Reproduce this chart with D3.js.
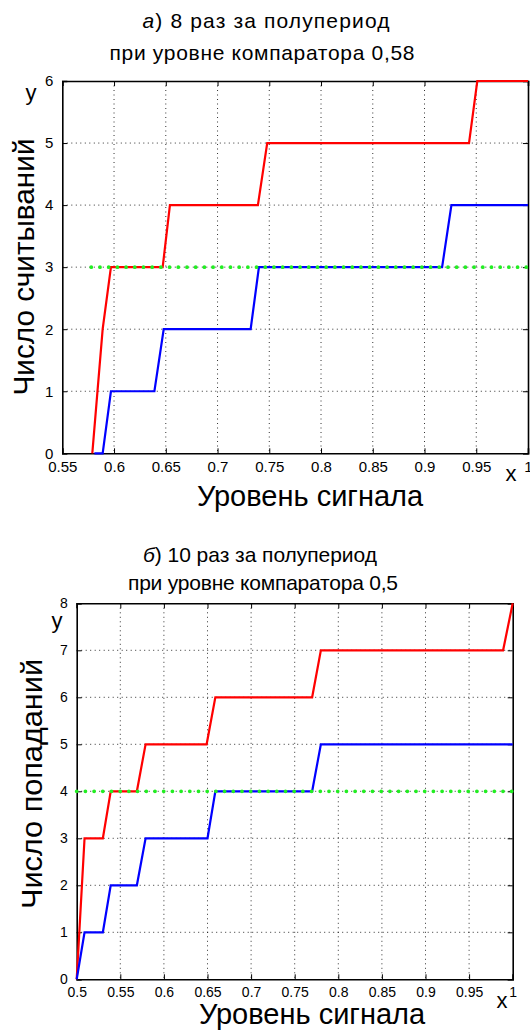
<!DOCTYPE html>
<html><head><meta charset="utf-8">
<script src="https://cdn.jsdelivr.net/npm/d3@7"></script>
<style>
body{margin:0;background:#fff;}
svg{display:block;font-family:"Liberation Sans",Arial,sans-serif;}
</style></head>
<body>
<svg id="c" width="530" height="1030"></svg>
<script>
// ---- Chart A data ----
const xTicksA = [0.55,0.6,0.65,0.7,0.75,0.8,0.85,0.9,0.95,1];
const yTicksA = [0,1,2,3,4,5,6];
const redAx = [0.579,0.589,0.597,0.647,0.654,0.739,0.748,0.943,0.951,1.0];
const redAy = [0,2,3,3,4,4,5,5,6,6];
const blueAx = [0.581,0.589,0.597,0.639,0.648,0.732,0.740,0.917,0.926,1.0];
const blueAy = [0,0,1,1,2,2,3,3,4,4];
const greenAx = [0.578,1.0];
const greenAy = [3,3];
// ---- Chart B data ----
const xTicksB = [0.5,0.55,0.6,0.65,0.7,0.75,0.8,0.85,0.9,0.95,1];
const yTicksB = [0,1,2,3,4,5,6,7,8];
const redBx = [0.5,0.509,0.530,0.539,0.569,0.579,0.649,0.659,0.770,0.780,0.989,1.0];
const redBy = [0,3,3,4,4,5,5,6,6,7,7,8];
const blueBx = [0.5,0.509,0.530,0.539,0.569,0.579,0.650,0.659,0.770,0.780,1.0];
const blueBy = [0,1,1,2,2,3,3,4,4,5,5];
const greenBx = [0.5,1.0];
const greenBy = [4,4];

const svg = d3.select("#c");

const fmtX = d => String(d);
const fmtY = d3.format("d");

function chart(cfg){
  const g = svg.append("g");
  const x = d3.scaleLinear().domain(cfg.xd).range([cfg.x0,cfg.x1]);
  const y = d3.scaleLinear().domain(cfg.yd).range([cfg.y1,cfg.y0]);
  // grid
  g.append("g").selectAll("line").data(cfg.xt.slice(1,-1)).join("line")
    .attr("x1",d=>x(d)).attr("x2",d=>x(d)).attr("y1",cfg.y0).attr("y2",cfg.y1)
    .attr("stroke","#000").attr("stroke-width",1).attr("stroke-dasharray","1,3.5").attr("opacity",0.8);
  g.append("g").selectAll("line").data(cfg.yt.slice(1,-1)).join("line")
    .attr("y1",d=>y(d)).attr("y2",d=>y(d)).attr("x1",cfg.x0).attr("x2",cfg.x1)
    .attr("stroke","#000").attr("stroke-width",1).attr("stroke-dasharray","1,3.5").attr("opacity",0.8);
  // axes
  const ax = (sel)=>sel.selectAll(".domain").attr("stroke-width",1.6);
  const tf = s=>s.selectAll("text").attr("font-size",cfg.tfs).attr("font-family","Liberation Sans").attr("fill","#000");
  g.append("g").attr("transform",`translate(0,${cfg.y1})`)
    .call(d3.axisBottom(x).tickValues(cfg.xt).tickSize(-5).tickPadding(8).tickFormat(fmtX))
    .call(ax).call(tf);
  g.append("g").attr("transform",`translate(0,${cfg.y0})`)
    .call(d3.axisTop(x).tickValues(cfg.xt).tickSize(-5).tickFormat(""))
    .call(ax);
  g.append("g").attr("transform",`translate(${cfg.x0},0)`)
    .call(d3.axisLeft(y).tickValues(cfg.yt).tickSize(-5).tickPadding(9).tickFormat(fmtY))
    .call(ax).call(tf);
  g.append("g").attr("transform",`translate(${cfg.x1},0)`)
    .call(d3.axisRight(y).tickValues(cfg.yt).tickSize(-5).tickFormat(""))
    .call(ax);
  const line = d3.line().x(d=>x(d[0])).y(d=>y(d[1]));
  const pts = (xs,ys)=>xs.map((v,i)=>[v,ys[i]]);
  g.append("path").attr("d",line(pts(cfg.rx,cfg.ry))).attr("fill","none").attr("stroke","#ff0000").attr("stroke-width",2.2);
  g.append("path").attr("d",line(pts(cfg.bx,cfg.by))).attr("fill","none").attr("stroke","#0000ff").attr("stroke-width",2.2);
  g.append("path").attr("d",line(pts(cfg.gx,cfg.gy))).attr("fill","none").attr("stroke","#22ee22")
    .attr("stroke-width",3.8).attr("stroke-linecap","round").attr("stroke-dasharray","0,8.7");
  return g;
}

chart({xd:[0.55,1],yd:[0,6],x0:62.3,x1:528,y0:81,y1:453.3,xt:xTicksA,yt:yTicksA,tfs:15,
  rx:redAx,ry:redAy,bx:blueAx,by:blueAy,gx:greenAx,gy:greenAy});
chart({xd:[0.5,1],yd:[0,8],x0:76.7,x1:512.7,y0:603.3,y1:979.3,xt:xTicksB,yt:yTicksB,tfs:14,
  rx:redBx,ry:redBy,bx:blueBx,by:blueBy,gx:greenBx,gy:greenBy});

function txt(s,x,y,fs,anchor,rot){
  const t = svg.append("text").attr("x",x).attr("y",y).attr("font-size",fs)
    .attr("text-anchor",anchor||"middle").attr("fill","#000").text(s);
  if(rot) t.attr("transform",`rotate(${rot},${x},${y})`);
  return t;
}
// titles
let t1 = svg.append("text").attr("x",266).attr("y",28).attr("font-size",21).attr("text-anchor","middle")
  .attr("textLength",247).attr("lengthAdjust","spacing");
t1.append("tspan").attr("font-style","italic").text("а");
t1.append("tspan").text(") 8 раз за полупериод");
txt("при уровне компаратора 0,58",262,60,21).attr("textLength",305).attr("lengthAdjust","spacing");
let t2 = svg.append("text").attr("x",260).attr("y",562).attr("font-size",21).attr("text-anchor","middle")
  .attr("textLength",234).attr("lengthAdjust","spacing");
t2.append("tspan").attr("font-style","italic").text("б");
t2.append("tspan").text(") 10 раз за полупериод");
txt("при уровне компаратора 0,5",263,590,21).attr("textLength",270).attr("lengthAdjust","spacing");
// axis letters
txt("y",31,100,22);
txt("x",511,481,22);
txt("y",57,628,22);
txt("x",502,1008,22);
// axis labels
txt("Уровень сигнала",310,506,29);
txt("Уровень сигнала",312,1024,29);
txt("Число считываний",34,267,29,"middle",-90).attr("textLength",257).attr("lengthAdjust","spacingAndGlyphs");
txt("Число попаданий",42,784,29,"middle",-90).attr("textLength",250).attr("lengthAdjust","spacingAndGlyphs");
</script>
</body></html>
